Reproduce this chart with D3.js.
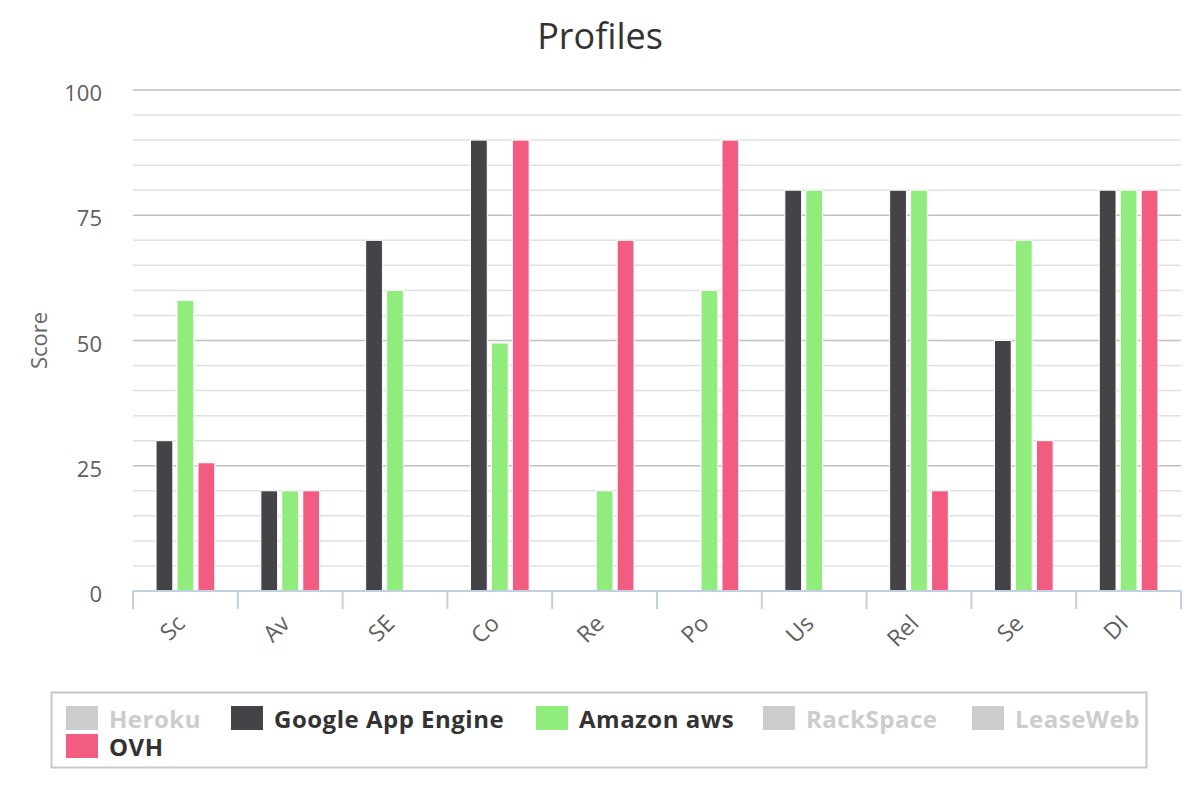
<!DOCTYPE html>
<html>
<head>
<meta charset="utf-8">
<script src="https://cdn.jsdelivr.net/npm/d3@7"></script>
<style>
  body { margin: 0; background: #fff; }
  svg { display: block; font-family: "Open Sans", sans-serif; }
</style>
</head>
<body>
<div id="chart"></div>
<script>
// chart values
const categories = ["Sc", "Av", "SE", "Co", "Re", "Po", "Us", "Rel", "Se", "DI"];
const googleValues = [30, 20, 70, 90, null, null, 80, 80, 50, 80];
const amazonValues = [58, 20, 60, 49.5, 20, 60, 80, 80, 70, 80];
const ovhValues = [25.6, 20, null, 90, 70, 90, null, 20, 30, 80];
const yTicks = [0, 25, 50, 75, 100];

// legend order, hidden series have no bars
const seriesNames = ["Heroku", "Google App Engine", "Amazon aws", "RackSpace", "LeaseWeb", "OVH"];
const seriesColors = ["#7cb5ec", "#434348", "#90ed7d", "#f7a35c", "#8085e9", "#f15c80"];
const seriesVisible = [false, true, true, false, false, true];
const seriesData = [null, googleValues, amazonValues, null, null, ovhValues];

const width = 1200, height = 800;
const margin = { top: 90, right: 19, bottom: 209, left: 133 };
const plotW = width - margin.left - margin.right;
const plotH = height - margin.top - margin.bottom;

const svg = d3.select("#chart").append("svg")
  .attr("width", width)
  .attr("height", height);

svg.append("text")
  .attr("x", width / 2)
  .attr("y", 49)
  .attr("text-anchor", "middle")
  .attr("fill", "#333333")
  .style("font-size", "36px")
  .text("Profiles");

const chart = svg.append("g")
  .attr("transform", `translate(${margin.left},${margin.top})`);

const y = d3.scaleLinear().domain([0, 100]).range([plotH, 0]);
const x0 = d3.scaleBand().domain(categories).range([0, plotW]);

const visible = seriesNames.filter((n, i) => seriesVisible[i]);
const x1 = d3.scaleBand()
  .domain(visible)
  .range([x0.bandwidth() * 0.2, x0.bandwidth() * 0.8])
  .paddingInner(0.2)
  .paddingOuter(0.1);

// minor grid every 5, major at the labelled ticks
const minor = d3.range(5, 101, 5).filter(v => !yTicks.includes(v));
chart.append("g").selectAll("line")
  .data(minor)
  .join("line")
  .attr("x1", 0).attr("x2", plotW)
  .attr("y1", d => y(d)).attr("y2", d => y(d))
  .attr("stroke", "#e0e0e0")
  .attr("stroke-width", 1.5);

chart.append("g").selectAll("line")
  .data(yTicks.filter(v => v > 0))
  .join("line")
  .attr("x1", 0).attr("x2", plotW)
  .attr("y1", d => y(d)).attr("y2", d => y(d))
  .attr("stroke", "#c0c0c0")
  .attr("stroke-width", 1.5);

// y axis labels
const yAxis = chart.append("g")
  .call(d3.axisLeft(y).tickValues(yTicks).tickSize(0).tickPadding(31));
yAxis.select(".domain").remove();
yAxis.selectAll("text")
  .attr("fill", "#606060")
  .attr("dy", "0.48em")
  .style("font-size", "22px")
  .style("font-family", "Open Sans, sans-serif");

svg.append("text")
  .attr("transform", `translate(47,${margin.top + plotH / 2}) rotate(-90)`)
  .attr("text-anchor", "middle")
  .attr("fill", "#666666")
  .style("font-size", "22px")
  .text("Score");

// bars
const rows = [];
seriesNames.forEach((name, i) => {
  if (!seriesVisible[i]) return;
  seriesData[i].forEach((v, j) => {
    if (v != null) rows.push({ name, cat: categories[j], value: v, color: seriesColors[i] });
  });
});

chart.append("g").selectAll("rect")
  .data(rows)
  .join("rect")
  .attr("x", d => x0(d.cat) + x1(d.name))
  .attr("width", x1.bandwidth())
  .attr("y", d => y(d.value))
  .attr("height", d => plotH - y(d.value))
  .attr("fill", d => d.color)
  .attr("stroke", "#ffffff")
  .attr("stroke-width", 1);

// x axis with boundary ticks
const xAxis = chart.append("g").attr("transform", `translate(0,${plotH})`);
xAxis.append("line")
  .attr("x1", 0).attr("x2", plotW)
  .attr("y1", 0).attr("y2", 0)
  .attr("stroke", "#c0d0e0")
  .attr("stroke-width", 2);
const bounds = categories.map(c => x0(c)).concat([plotW]);
xAxis.selectAll(".tick-mark")
  .data(bounds)
  .join("line")
  .attr("class", "tick-mark")
  .attr("x1", d => d).attr("x2", d => d)
  .attr("y1", 0).attr("y2", 18)
  .attr("stroke", "#c0d0e0")
  .attr("stroke-width", 2);
xAxis.selectAll(".cat-label")
  .data(categories)
  .join("text")
  .attr("class", "cat-label")
  .attr("transform", d => `translate(${x0(d) + x0.bandwidth() / 2 + 1},${34}) rotate(-45)`)
  .attr("text-anchor", "end")
  .attr("fill", "#606060")
  .style("font-size", "23px")
  .text(d => d);

// legend
const legend = svg.append("g");
legend.append("rect")
  .attr("x", 51.5).attr("y", 692.5)
  .attr("width", 1095).attr("height", 75)
  .attr("fill", "none")
  .attr("stroke", "#c8c8c8")
  .attr("stroke-width", 2);

// item slots: row 1 then wrap
const legendSlots = [[66, 706], [231, 706], [536, 706], [763, 706], [972, 706], [66, 734]];
seriesNames.forEach((name, i) => {
  const item = legend.append("g")
    .attr("transform", `translate(${legendSlots[i][0]},${legendSlots[i][1]})`);
  item.append("rect")
    .attr("width", 32).attr("height", 24)
    .attr("fill", seriesVisible[i] ? seriesColors[i] : "#cccccc");
  item.append("text")
    .attr("x", 43)
    .attr("y", 22)
    .attr("fill", seriesVisible[i] ? "#333333" : "#cccccc")
    .style("font-size", "24px")
    .style("font-weight", "bold")
    .style("letter-spacing", "0.5px")
    .text(name);
});
</script>
</body>
</html>
